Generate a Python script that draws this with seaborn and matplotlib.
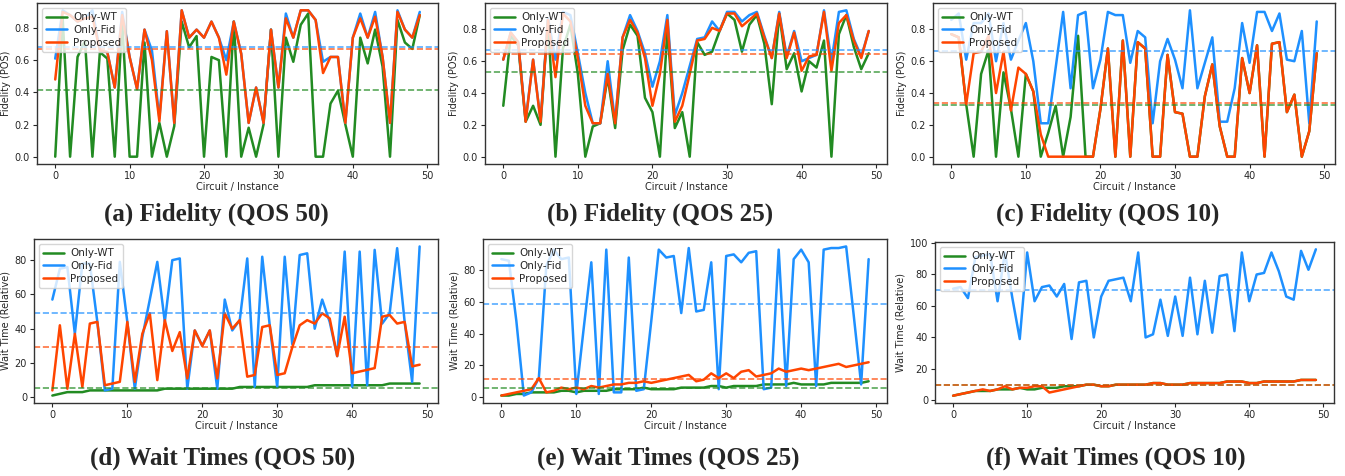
import numpy as np
import matplotlib
matplotlib.use("Agg")
import matplotlib.pyplot as plt
import seaborn as sns

# estilo geral
sns.set_theme(style="ticks", rc={"axes.labelsize": 7, "xtick.labelsize": 7, "ytick.labelsize": 7,
                                 "axes.edgecolor": "#333333", "axes.linewidth": 1.0})
plt.rcParams['font.family'] = ['DejaVu Sans']

circuits = list(range(50))
series_names = ["Only-WT", "Only-Fid", "Proposed"]
series_colors = ["forestgreen", "dodgerblue", "orangered"]

# --- Fidelity (POS) ---
fid_qos50_wt = [0.0, 0.86, 0.0, 0.62, 0.72, 0.0, 0.65, 0.61, 0.0, 0.84,
                0.0, 0.0, 0.71, 0.0, 0.21, 0.0, 0.19, 0.84, 0.68, 0.75,
                0.0, 0.62, 0.60, 0.0, 0.84, 0.0, 0.18, 0.0, 0.20, 0.79,
                0.0, 0.74, 0.59, 0.82, 0.89, 0.0, 0.0, 0.33, 0.41, 0.20,
                0.0, 0.74, 0.58, 0.79, 0.56, 0.0, 0.85, 0.71, 0.67, 0.88]
fid_qos50_fid = [0.61, 0.91, 0.88, 0.84, 0.86, 0.91, 0.66, 0.65, 0.43, 0.90,
                 0.62, 0.42, 0.79, 0.66, 0.24, 0.78, 0.21, 0.91, 0.74, 0.79,
                 0.74, 0.84, 0.74, 0.60, 0.84, 0.64, 0.21, 0.43, 0.21, 0.79,
                 0.43, 0.89, 0.74, 0.91, 0.91, 0.85, 0.59, 0.62, 0.62, 0.21,
                 0.74, 0.89, 0.74, 0.90, 0.62, 0.21, 0.91, 0.79, 0.74, 0.90]
fid_qos50_prop = [0.48, 0.90, 0.88, 0.84, 0.86, 0.87, 0.66, 0.65, 0.43, 0.88,
                  0.62, 0.42, 0.79, 0.60, 0.22, 0.78, 0.21, 0.91, 0.74, 0.79,
                  0.74, 0.84, 0.74, 0.51, 0.84, 0.64, 0.21, 0.43, 0.21, 0.79,
                  0.43, 0.86, 0.74, 0.91, 0.91, 0.85, 0.52, 0.62, 0.62, 0.21,
                  0.74, 0.86, 0.74, 0.87, 0.62, 0.21, 0.90, 0.79, 0.74, 0.88]

fid_qos25_wt = [0.32, 0.76, 0.70, 0.22, 0.32, 0.20, 0.86, 0.0, 0.68, 0.83,
                0.52, 0.0, 0.19, 0.21, 0.50, 0.18, 0.67, 0.83, 0.76, 0.37,
                0.28, 0.0, 0.80, 0.18, 0.28, 0.0, 0.72, 0.64, 0.66, 0.79,
                0.90, 0.86, 0.66, 0.83, 0.89, 0.71, 0.33, 0.90, 0.55, 0.65,
                0.41, 0.60, 0.56, 0.73, 0.0, 0.77, 0.89, 0.69, 0.55, 0.65]
fid_qos25_fid = [0.61, 0.78, 0.72, 0.23, 0.61, 0.23, 0.87, 0.61, 0.91, 0.89,
                 0.65, 0.40, 0.21, 0.21, 0.60, 0.22, 0.75, 0.89, 0.79, 0.65,
                 0.44, 0.60, 0.89, 0.26, 0.40, 0.57, 0.74, 0.75, 0.85, 0.79,
                 0.91, 0.91, 0.85, 0.89, 0.91, 0.76, 0.62, 0.91, 0.63, 0.79,
                 0.60, 0.62, 0.64, 0.92, 0.60, 0.91, 0.92, 0.74, 0.63, 0.79]
fid_qos25_prop = [0.61, 0.78, 0.72, 0.22, 0.61, 0.22, 0.86, 0.50, 0.90, 0.85,
                  0.62, 0.32, 0.21, 0.21, 0.52, 0.21, 0.75, 0.86, 0.78, 0.62,
                  0.32, 0.52, 0.86, 0.22, 0.32, 0.52, 0.73, 0.74, 0.81, 0.79,
                  0.90, 0.90, 0.82, 0.86, 0.90, 0.75, 0.62, 0.90, 0.62, 0.78,
                  0.54, 0.63, 0.64, 0.91, 0.54, 0.84, 0.89, 0.73, 0.62, 0.79]

fid_qos10_wt = [0.77, 0.75, 0.33, 0.0, 0.52, 0.67, 0.0, 0.53, 0.30, 0.0,
                0.52, 0.41, 0.0, 0.15, 0.32, 0.0, 0.25, 0.76, 0.0, 0.0,
                0.30, 0.68, 0.0, 0.73, 0.0, 0.72, 0.68, 0.0, 0.0, 0.64,
                0.28, 0.27, 0.0, 0.0, 0.38, 0.58, 0.19, 0.0, 0.0, 0.62,
                0.40, 0.70, 0.0, 0.71, 0.72, 0.28, 0.39, 0.0, 0.16, 0.65]
fid_qos10_fid = [0.86, 0.90, 0.61, 0.84, 0.84, 0.90, 0.60, 0.84, 0.61, 0.73,
                 0.84, 0.60, 0.21, 0.21, 0.56, 0.91, 0.43, 0.89, 0.91, 0.43,
                 0.61, 0.91, 0.89, 0.89, 0.59, 0.79, 0.75, 0.21, 0.60, 0.74,
                 0.61, 0.43, 0.92, 0.43, 0.59, 0.75, 0.22, 0.22, 0.43, 0.84,
                 0.59, 0.91, 0.91, 0.79, 0.90, 0.61, 0.60, 0.79, 0.21, 0.85]
fid_qos10_prop = [0.77, 0.75, 0.33, 0.65, 0.66, 0.76, 0.40, 0.66, 0.29, 0.56,
                  0.52, 0.41, 0.14, 0.0, 0.0, 0.0, 0.0, 0.0, 0.0, 0.0,
                  0.30, 0.68, 0.0, 0.73, 0.0, 0.72, 0.68, 0.0, 0.0, 0.64,
                  0.28, 0.27, 0.0, 0.0, 0.38, 0.58, 0.19, 0.0, 0.0, 0.62,
                  0.40, 0.70, 0.0, 0.71, 0.72, 0.28, 0.39, 0.0, 0.16, 0.65]

# --- Wait Time (Relative) ---
wait_qos50_wt = [1, 2, 3, 3, 3, 4, 4, 4, 4, 4, 4, 4, 4, 4, 4, 5, 5, 5, 5, 5, 5, 5, 5, 5, 5,
                 6, 6, 6, 6, 6, 6, 6, 6, 6, 6, 7, 7, 7, 7, 7, 7, 7, 7, 7, 7, 8, 8, 8, 8, 8]
wait_qos50_fid = [57, 75, 76, 37, 78, 78, 44, 4, 5, 79, 44, 5, 35, 57, 79, 44, 80, 81, 5, 39,
                  30, 39, 5, 57, 39, 45, 81, 6, 82, 42, 6, 82, 31, 83, 84, 40, 57, 44, 24, 85,
                  6, 85, 7, 86, 43, 49, 87, 44, 9, 88]
wait_qos50_prop = [4, 42, 5, 37, 6, 43, 44, 7, 8, 9, 44, 9, 37, 49, 10, 45, 27, 38, 11, 39,
                   30, 39, 11, 49, 40, 45, 12, 13, 41, 42, 13, 14, 29, 42, 45, 43, 49, 46, 24, 47,
                   14, 15, 16, 17, 47, 48, 43, 44, 18, 19]

wait_qos25_wt = [1, 1, 2, 2, 3, 3, 3, 3, 4, 4, 3, 4, 4, 4, 4, 5, 5, 5, 5, 6, 5, 5, 5, 5, 6,
                 6, 6, 6, 7, 7, 6, 7, 7, 7, 7, 8, 8, 8, 8, 9, 8, 8, 8, 8, 9, 9, 9, 9, 9, 10]
wait_qos25_fid = [87, 86, 48, 1, 3, 12, 83, 93, 87, 88, 2, 44, 85, 2, 93, 3, 3, 88, 4, 5,
                  48, 93, 88, 89, 53, 94, 54, 55, 85, 5, 89, 90, 85, 91, 92, 5, 6, 93, 7, 87,
                  93, 85, 7, 93, 94, 94, 95, 52, 8, 87]
wait_qos25_prop = [1, 2, 3, 4, 5, 12, 3, 4, 6, 5, 6, 5, 7, 6, 7, 8, 8, 9, 9, 10,
                   9, 10, 11, 12, 13, 14, 10, 11, 15, 12, 15, 12, 16, 17, 13, 14, 15, 18, 16, 17,
                   18, 17, 18, 19, 20, 21, 19, 20, 21, 22]

wait_qos10_wt = [3, 4, 5, 6, 6, 6, 7, 7, 7, 8, 7, 7, 8, 8, 8, 9, 9, 9, 10, 10,
                 9, 9, 10, 10, 10, 10, 10, 11, 11, 10, 10, 10, 11, 11, 11, 11, 11, 12, 12, 12,
                 11, 11, 12, 12, 12, 12, 12, 13, 13, 13]
wait_qos10_fid = [71, 72, 65, 91, 92, 93, 63, 94, 65, 39, 94, 63, 72, 73, 66, 74, 39, 75, 76, 40,
                  66, 76, 77, 78, 63, 94, 40, 42, 64, 41, 66, 41, 78, 42, 76, 43, 79, 80, 44, 94,
                  63, 80, 81, 94, 82, 66, 64, 95, 83, 96]
wait_qos10_prop = [3, 4, 5, 6, 7, 6, 7, 9, 7, 8, 8, 9, 9, 5, 6, 7, 8, 9, 10, 10,
                   9, 9, 10, 10, 10, 10, 10, 11, 11, 10, 10, 10, 11, 11, 11, 11, 11, 12, 12, 12,
                   11, 11, 12, 12, 12, 12, 12, 13, 13, 13]

captions = ["(a) Fidelity (QOS 50)", "(b) Fidelity (QOS 25)", "(c) Fidelity (QOS 10)",
            "(d) Wait Times (QOS 50)", "(e) Wait Times (QOS 25)", "(f) Wait Times (QOS 10)"]


def main():
    W, H = 1345, 476
    fig = plt.figure(figsize=(W / 100, H / 100), dpi=100)

    # caixas dos eixos em pixels: esquerda, topo, direita, base
    boxes = [(37, 3, 438, 164), (485, 3, 887, 164), (933, 3, 1335, 164),
             (34, 239, 438, 403), (483, 239, 887, 403), (935, 242, 1334, 403)]
    caption_pos = [(216, 214), (660, 214), (1108, 214),
                   (223, 458), (668, 458), (1116, 458)]

    panels = [
        (fid_qos50_wt, fid_qos50_fid, fid_qos50_prop, "Fidelity (POS)"),
        (fid_qos25_wt, fid_qos25_fid, fid_qos25_prop, "Fidelity (POS)"),
        (fid_qos10_wt, fid_qos10_fid, fid_qos10_prop, "Fidelity (POS)"),
        (wait_qos50_wt, wait_qos50_fid, wait_qos50_prop, "Wait Time (Relative)"),
        (wait_qos25_wt, wait_qos25_fid, wait_qos25_prop, "Wait Time (Relative)"),
        (wait_qos10_wt, wait_qos10_fid, wait_qos10_prop, "Wait Time (Relative)"),
    ]

    for i, (wt, fid, prop, ylabel) in enumerate(panels):
        l, t, r, b = boxes[i]
        ax = fig.add_axes([l / W, 1 - b / H, (r - l) / W, (b - t) / H])
        for vals, name, color in zip([wt, fid, prop], series_names, series_colors):
            sns.lineplot(x=circuits, y=vals, color=color, label=name, linewidth=1.8, ax=ax)
        for vals, color in zip([wt, fid, prop], series_colors):
            ax.axhline(np.mean(vals), color=color, linestyle="--", linewidth=1.2, alpha=0.75)
        ax.set_xlabel("Circuit / Instance", labelpad=1)
        ax.set_ylabel(ylabel, labelpad=3)
        ax.tick_params(length=3, width=0.8, pad=2)
        ax.legend(loc="upper left", fontsize=7.5, handlelength=2.0, borderpad=0.4,
                  labelspacing=0.25, handletextpad=0.6, framealpha=0.8)
        if i < 3:
            ax.set_yticks([0.0, 0.2, 0.4, 0.6, 0.8])

        cx, cy = caption_pos[i]
        fig.text(cx / W, 1 - cy / H, captions[i], ha="center", va="center",
                 fontsize=18, fontweight="bold", family="Liberation Serif")

    fig.savefig("out.png", dpi=100)
    plt.close(fig)


if __name__ == "__main__":
    main()
